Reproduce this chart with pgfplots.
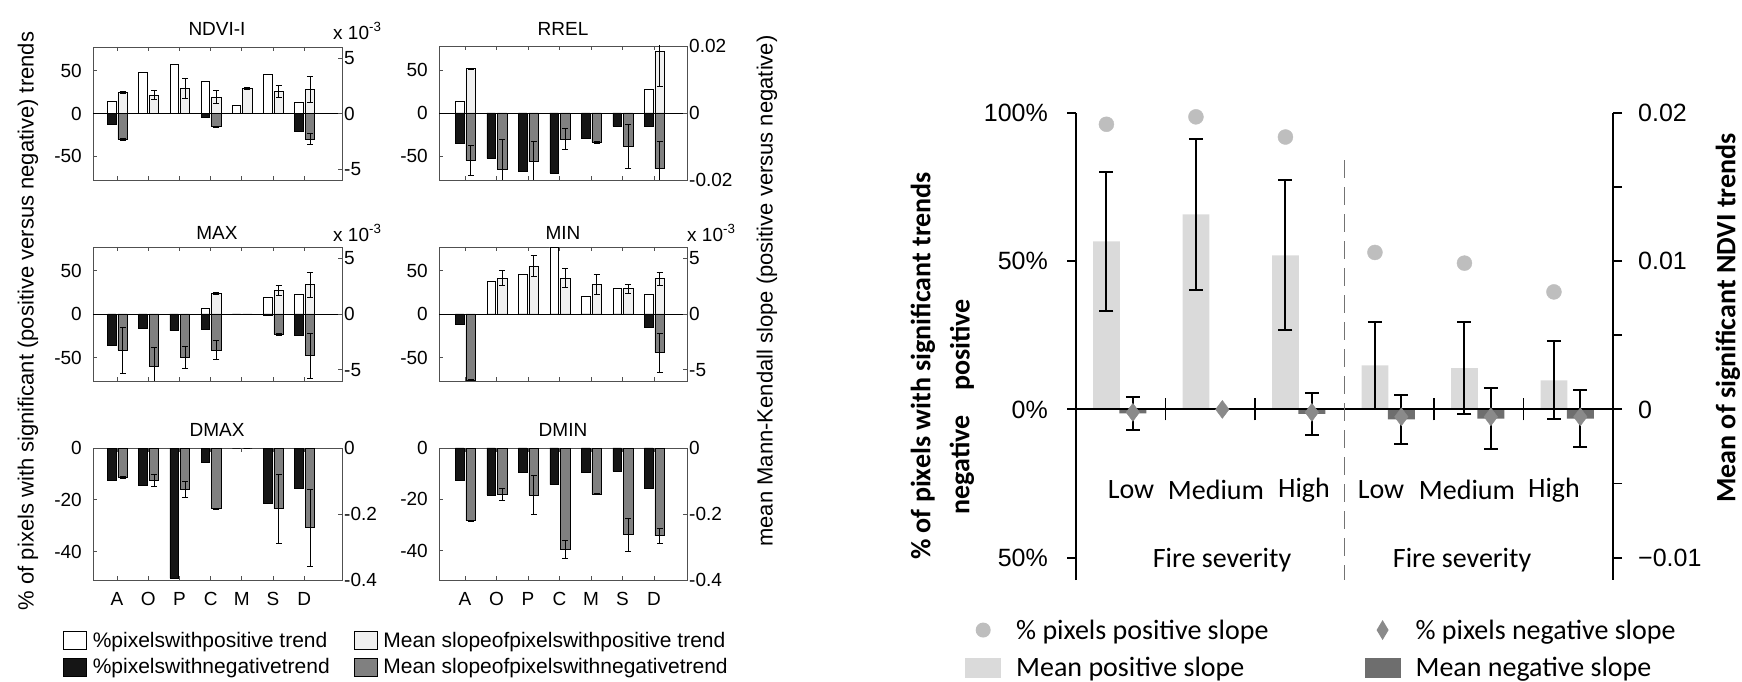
\documentclass[border=0pt]{standalone}
\usepackage{fontspec}
\setmainfont{Liberation Sans}
\newfontfamily\calib{Carlito}
\usepackage{pgfplots}
\usepackage{pgfplotstable}
\pgfplotsset{compat=1.18}

\definecolor{lgray}{HTML}{F0F0F0}
\definecolor{dgray}{HTML}{808080}
\definecolor{blk}{HTML}{151515}
\definecolor{pbar}{HTML}{DADADA}
\definecolor{nbar}{HTML}{6E6E6E}
\definecolor{dotc}{HTML}{BEBEBE}
\definecolor{diac}{HTML}{8A8A8A}
\definecolor{axc}{HTML}{505050}

% pp / pn: % pixels with positive / negative trend; sp, spe / sn, sne: mean slope and error
\pgfplotstableread{
x pp pn sp spe sn sne
1 14 -12.6 0.00190 0.00006 -0.00233 0.00010
2 48 0 0.00167 0.00038 0 0
3 58 0 0.00227 0.00090 0 0
4 37.8 -4 0.00148 0.00060 -0.00120 0.00006
5 10 0 0.00227 0.00006 0 0
6 45.7 0 0.00200 0.00053 0 0
7 13 -20.5 0.00218 0.00120 -0.00230 0.00050
}\ndvi
\pgfplotstableread{
x pp pn sp spe sn sne
1 13.6 -35.7 0.0132 0.0002 -0.0142 0.0045
2 0 -52.7 0 0 -0.0168 0.0090
3 0 -68 0 0 -0.0145 0.0060
4 0 -70 0 0 -0.0078 0.0031
5 0 -29 0 0 -0.0087 0.0003
6 0 -15.5 0 0 -0.0100 0.0065
7 28 -15.5 0.0183 0.0103 -0.0166 0.0081
}\rrel
\pgfplotstableread{
x pp pn sp spe sn sne
1 0 -35.9 0 0 -0.00322 0.00205
2 0 -16.8 0 0 -0.00467 0.00166
3 0 -19.1 0 0 -0.00386 0.00100
4 6.9 -17.2 0.00184 0.00006 -0.00322 0.00087
5 0 0 0 0 0 0
6 19.1 -1.9 0.00211 0.00042 -0.00181 0.00006
7 22.1 -24.8 0.00262 0.00114 -0.00373 0.00200
}\maxt
\pgfplotstableread{
x pp pn sp spe sn sne
1 0 -12.2 0 0 -0.00593 0.00006
2 37 0 0.00322 0.00065 0 0
3 45.4 0 0.00431 0.00095 0 0
4 77 0 0.00322 0.00083 0 0
5 20.2 0 0.00265 0.00087 0 0
6 29 0 0.00226 0.00040 0 0
7 22.1 -14.9 0.00316 0.00057 -0.00346 0.00173
}\mint
\pgfplotstableread{
x pn sn sne
1 -12.5 -0.089 0.002
2 -14.5 -0.098 0.019
3 -50.3 -0.125 0.024
4 -5.4 -0.184 0.002
5 0 0 0
6 -21.3 -0.184 0.104
7 -15.5 -0.241 0.117
}\dmax
\pgfplotstableread{
x pn sn sne
1 -12.6 -0.220 0.002
2 -18.3 -0.139 0.018
3 -9.5 -0.142 0.060
4 -14.3 -0.307 0.028
5 -9.5 -0.139 0.002
6 -9.1 -0.263 0.050
7 -15.6 -0.266 0.023
}\dmin
% right panel: Low, Medium, High, Low, Medium, High
\pgfplotstableread{
x xp xn pos neg sp spe sn sne
0 -0.16 0.135 96.1 -1.0 0.01132 0.00470 -0.00026 0.00112
1 0.84 1.135 98.6 0.0 0.01314 0.00506 0 0
2 1.84 2.135 91.8 -1.0 0.01038 0.00506 -0.00030 0.00140
3 2.84 3.135 52.9 -2.5 0.00296 0.00290 -0.00068 0.00168
4 3.84 4.135 49.3 -2.5 0.00278 0.00310 -0.00062 0.00206
5 4.84 5.135 39.6 -2.5 0.00196 0.00264 -0.00062 0.00194
}\rp

\pgfplotsset{
  sm/.style={scale only axis, anchor=south west, xtick={1,2,3,4,5,6,7},
    scaled y ticks=false, scaled x ticks=false,
    tick align=inside, major tick length=4bp,
    axis line style={axc, line width=0.8bp},
    tick style={axc, line width=0.8bp},
    tick label style={font=\fontsize{19bp}{22bp}\selectfont, inner sep=2bp}},
  colL/.style={width=249bp, xmin=0.23, xmax=8.21},
  colR/.style={width=248bp, xmin=0.175, xmax=8.05},
  smL/.style={sm, ytick pos=left, xticklabels={}, yticklabel style={xshift=-9bp}},
  smR/.style={sm, axis x line=none, axis y line*=right},
  pbar/.style={ybar, bar width=0.27, bar shift=-0.17, draw=black, line width=0.6bp},
  sbar/.style={ybar, bar width=0.30, bar shift=0.18, draw=black, line width=0.6bp, forget plot},
  seb/.style={draw=none, mark=none, forget plot,
     error bars/y dir=both, error bars/y explicit,
     error bars/error bar style={draw=black, solid, line width=0.6bp},
     error bars/error mark options={draw=black, solid, line width=0.6bp, mark size=3bp, rotate=90}},
  big/.style={scale only axis, anchor=south west, at={(1076bp,102bp)},
     width=537bp, height=467.3bp, xmin=-0.5, xmax=5.5,
     scaled y ticks=false, scaled x ticks=false,
     axis line style={black, line width=1.8bp, -},
     tick style={black, line width=1.8bp}},
  beb/.style={draw=none, mark=none, forget plot,
     error bars/y dir=both, error bars/y explicit,
     error bars/error bar style={draw=black, solid, line width=2bp},
     error bars/error mark options={draw=black, solid, line width=2bp, mark size=7bp, rotate=90}},
}

\begin{document}
\begin{tikzpicture}
\path[use as bounding box] (0bp,0bp) rectangle (1742bp,682bp);

% ---------------- NDVI-I
\begin{axis}[smL, colL, at={(93bp,502bp)}, height=133bp, ymin=-78, ymax=78,
  ytick={-50,0,50}, yticklabels={-50,0,50}]
\addplot[pbar, fill=white] table[x=x,y=pp]{\ndvi};
\addplot[pbar, fill=blk] table[x=x,y=pn]{\ndvi};
\draw[black, line width=0.8bp] (axis cs:0,0) -- (axis cs:9,0);
\end{axis}
\begin{axis}[smR, colL, at={(93bp,502bp)}, height=133bp, ymin=-0.006, ymax=0.006,
  ytick={-0.005,0,0.005}, yticklabels={-5,0,5}]
\addplot[sbar, fill=lgray] table[x=x,y=sp]{\ndvi};
\addplot[sbar, fill=dgray] table[x=x,y=sn]{\ndvi};
\addplot[seb] table[x expr=\thisrow{x}+0.18,y=sp,y error=spe]{\ndvi};
\addplot[seb] table[x expr=\thisrow{x}+0.18,y=sn,y error=sne]{\ndvi};
\end{axis}

% ---------------- RREL
\begin{axis}[smL, colR, at={(439bp,502bp)}, height=134bp, ymin=-78, ymax=78,
  ytick={-50,0,50}, yticklabels={-50,0,50}]
\addplot[pbar, fill=white] table[x=x,y=pp]{\rrel};
\addplot[pbar, fill=blk] table[x=x,y=pn]{\rrel};
\draw[black, line width=0.8bp] (axis cs:0,0) -- (axis cs:9,0);
\end{axis}
\begin{axis}[smR, colR, at={(439bp,502bp)}, height=134bp, ymin=-0.02, ymax=0.02,
  ytick={-0.02,0,0.02}, yticklabels={-0.02,0,0.02}]
\addplot[sbar, fill=lgray] table[x=x,y=sp]{\rrel};
\addplot[sbar, fill=dgray] table[x=x,y=sn]{\rrel};
\addplot[seb] table[x expr=\thisrow{x}+0.18,y=sp,y error=spe]{\rrel};
\addplot[seb] table[x expr=\thisrow{x}+0.18,y=sn,y error=sne]{\rrel};
\end{axis}

% ---------------- MAX
\begin{axis}[smL, colL, at={(93bp,301bp)}, height=134bp, ymin=-77, ymax=77,
  ytick={-50,0,50}, yticklabels={-50,0,50}]
\addplot[pbar, fill=white] table[x=x,y=pp]{\maxt};
\addplot[pbar, fill=blk] table[x=x,y=pn]{\maxt};
\draw[black, line width=0.8bp] (axis cs:0,0) -- (axis cs:9,0);
\end{axis}
\begin{axis}[smR, colL, at={(93bp,301bp)}, height=134bp, ymin=-0.006, ymax=0.006,
  ytick={-0.005,0,0.005}, yticklabels={-5,0,5}]
\addplot[sbar, fill=lgray] table[x=x,y=sp]{\maxt};
\addplot[sbar, fill=dgray] table[x=x,y=sn]{\maxt};
\addplot[seb] table[x expr=\thisrow{x}+0.18,y=sp,y error=spe]{\maxt};
\addplot[seb] table[x expr=\thisrow{x}+0.18,y=sn,y error=sne]{\maxt};
\end{axis}

% ---------------- MIN
\begin{axis}[smL, colR, at={(439bp,301bp)}, height=134bp, ymin=-77, ymax=77,
  ytick={-50,0,50}, yticklabels={-50,0,50}]
\addplot[pbar, fill=white] table[x=x,y=pp]{\mint};
\addplot[pbar, fill=blk] table[x=x,y=pn]{\mint};
\draw[black, line width=0.8bp] (axis cs:0,0) -- (axis cs:9,0);
\end{axis}
\begin{axis}[smR, colR, at={(439bp,301bp)}, height=134bp, ymin=-0.006, ymax=0.006,
  ytick={-0.005,0,0.005}, yticklabels={-5,0,5}]
\addplot[sbar, fill=lgray] table[x=x,y=sp]{\mint};
\addplot[sbar, fill=dgray] table[x=x,y=sn]{\mint};
\addplot[seb] table[x expr=\thisrow{x}+0.18,y=sp,y error=spe]{\mint};
\addplot[seb] table[x expr=\thisrow{x}+0.18,y=sn,y error=sne]{\mint};
\end{axis}

% ---------------- DMAX
\begin{axis}[smL, colL, at={(93bp,102bp)}, height=132bp, ymin=-51, ymax=0,
  ytick={-40,-20,0}, yticklabels={-40,-20,0},
  xticklabels={A,O,P,C,M,S,D}, xticklabel style={yshift=-10bp},
  legend columns=2, legend cell align=left,
  legend style={draw=none, fill=none, at={(axis description cs:-0.1325,-0.37)}, anchor=north west,
    font=\fontsize{21bp}{24bp}\selectfont, nodes={inner sep=0bp},
    /tikz/every odd column/.append style={column sep=6bp},
    /tikz/every even column/.append style={column sep=24bp},
    row sep=8bp}]
\addplot[pbar, fill=blk, forget plot] table[x=x,y=pn]{\dmax};
\addlegendimage{legend image code/.code={\draw[black, fill=white, line width=0.6bp] (0bp,-9bp) rectangle (23bp,9bp);}}
\addlegendentry{\%pixelswithpositive trend}
\addlegendimage{legend image code/.code={\draw[black, fill=lgray, line width=0.6bp] (0bp,-9bp) rectangle (23bp,9bp);}}
\addlegendentry{Mean slopeofpixelswithpositive trend}
\addlegendimage{legend image code/.code={\draw[black, fill=blk, line width=0.6bp] (0bp,-9bp) rectangle (23bp,9bp);}}
\addlegendentry{\%pixelswithnegativetrend}
\addlegendimage{legend image code/.code={\draw[black, fill=dgray, line width=0.6bp] (0bp,-9bp) rectangle (23bp,9bp);}}
\addlegendentry{Mean slopeofpixelswithnegativetrend}
\end{axis}
\begin{axis}[smR, colL, at={(93bp,102bp)}, height=132bp, ymin=-0.4, ymax=0,
  ytick={-0.4,-0.2,0}, yticklabels={-0.4,-0.2,0}]
\addplot[sbar, fill=dgray] table[x=x,y=sn]{\dmax};
\addplot[seb] table[x expr=\thisrow{x}+0.18,y=sn,y error=sne]{\dmax};
\end{axis}

% ---------------- DMIN
\begin{axis}[smL, colR, at={(439bp,102bp)}, height=132bp, ymin=-51.5, ymax=0,
  ytick={-40,-20,0}, yticklabels={-40,-20,0},
  xticklabels={A,O,P,C,M,S,D}, xticklabel style={yshift=-10bp}]
\addplot[pbar, fill=blk] table[x=x,y=pn]{\dmin};
\end{axis}
\begin{axis}[smR, colR, at={(439bp,102bp)}, height=132bp, ymin=-0.4, ymax=0,
  ytick={-0.4,-0.2,0}, yticklabels={-0.4,-0.2,0}]
\addplot[sbar, fill=dgray] table[x=x,y=sn]{\dmin};
\addplot[seb] table[x expr=\thisrow{x}+0.18,y=sn,y error=sne]{\dmin};
\end{axis}

% left panel texts
\begin{scope}[every node/.style={font=\fontsize{19bp}{22bp}\selectfont}]
\node at (217bp,653bp) {NDVI-I};
\node at (563bp,653bp) {RREL};
\node at (217bp,449bp) {MAX};
\node at (563bp,449bp) {MIN};
\node at (217bp,252bp) {DMAX};
\node at (563bp,252bp) {DMIN};
\node[anchor=west, inner sep=0bp] at (333bp,651bp) {x 10\textsuperscript{-3}};
\node[anchor=west, inner sep=0bp] at (333bp,449bp) {x 10\textsuperscript{-3}};
\node[anchor=west, inner sep=0bp] at (687bp,449bp) {x 10\textsuperscript{-3}};
\end{scope}
\node[rotate=90, font=\fontsize{22bp}{26bp}\selectfont] at (28bp,361bp) {\% of pixels with significant (positive versus negative) trends};
\node[rotate=90, font=\fontsize{22bp}{26bp}\selectfont] at (767bp,391bp) {mean Mann-Kendall slope (positive versus negative)};

% ---------------- right panel: bars on slope axis
\begin{axis}[big, ymin=-0.0115, ymax=0.02, axis x line=none, axis y line*=right,
  ytick={-0.01,-0.005,0,0.005,0.01,0.015,0.02},
  yticklabels={−0.01,,0,,0.01,,0.02},
  tick align=outside, major tick length=9bp,
  yticklabel style={font=\fontsize{25bp}{30bp}\selectfont, inner sep=0bp, xshift=16bp}]
\addplot[ybar, bar width=0.30, bar shift=-0.16, fill=pbar, draw=none, forget plot] table[x=x,y=sp]{\rp};
\addplot[ybar, bar width=0.30, bar shift=0.135, fill=nbar, draw=none, forget plot] table[x=x,y=sn]{\rp};
\addplot[beb] table[x=xp,y=sp,y error=spe]{\rp};
\addplot[beb] table[x=xn,y=sn,y error=sne]{\rp};
\end{axis}
% zero line
\begin{axis}[big, ymin=-57.5, ymax=100, axis y line=none, axis x line*=middle,
  xtick={0.5,1.5,3.5,4.5}, xticklabels={}, tick align=center, major tick length=22bp]
\addplot[draw=none, forget plot] coordinates {(0,0)};
\draw[dashed, dash pattern=on 18bp off 9bp, color=black!55, line width=1.8bp] (axis cs:2.5,84) -- (axis cs:2.5,-57.5);
\end{axis}
% percent axis
\begin{axis}[big, ymin=-57.5, ymax=100, axis x line=none, axis y line*=left, clip=false,
  ytick={-50,0,50,100}, yticklabels={50\%,0\%,50\%,100\%},
  tick align=outside, major tick length=9bp,
  yticklabel style={font=\fontsize{25bp}{30bp}\selectfont, inner sep=0bp, xshift=-19bp},
  legend columns=2, legend cell align=left,
  legend style={draw=none, fill=none, at={(axis description cs:-0.2123,-0.08)}, anchor=north west,
    font=\calib\fontsize{28bp}{32bp}\selectfont, nodes={inner sep=0bp},
    /tikz/every odd column/.append style={column sep=15bp},
    /tikz/every even column/.append style={column sep=96bp},
    row sep=17bp}]
\addplot[only marks, mark=*, mark size=7.5bp, color=dotc, forget plot] table[x=xp,y=pos]{\rp};
\addplot[only marks, mark=diamond*, mark size=9bp, color=diac, forget plot] table[x=xn,y=neg]{\rp};
\addlegendimage{legend image code/.code={\path[draw=none, fill=none] (0bp,-10bp) rectangle (36bp,10bp); \fill[dotc, draw=none] (18bp,0bp) circle (7.5bp);}}
\addlegendentry{\% pixels positive slope}
\addlegendimage{legend image code/.code={\path[draw=none, fill=none] (0bp,-10bp) rectangle (36bp,10bp); \fill[diac, draw=none] (18bp,-10bp) -- (24bp,0bp) -- (18bp,10bp) -- (12bp,0bp) -- cycle;}}
\addlegendentry{\% pixels negative slope}
\addlegendimage{legend image code/.code={\fill[pbar, draw=none] (0bp,-10bp) rectangle (36bp,10bp);}}
\addlegendentry{Mean positive slope}
\addlegendimage{legend image code/.code={\fill[nbar, draw=none] (0bp,-10bp) rectangle (36bp,10bp);}}
\addlegendentry{Mean negative slope}
\end{axis}

% right panel texts
\begin{scope}[every node/.style={font=\calib\bfseries\fontsize{28bp}{32bp}\selectfont, rotate=90}]
\node at (923bp,316bp) {\% of pixels with significant trends};
\node at (962bp,337bp) {positive};
\node at (962bp,217bp) {negative};
\node at (1728bp,364bp) {Mean of significant NDVI trends};
\end{scope}
\begin{scope}[every node/.style={font=\calib\fontsize{28bp}{32bp}\selectfont}]
\node at (1131bp,192bp) {Low};
\node at (1216bp,192bp) {Medium};
\node at (1304bp,192bp) {High};
\node at (1381bp,192bp) {Low};
\node at (1467bp,192bp) {Medium};
\node at (1554bp,192bp) {High};
\node at (1222bp,122bp) {Fire severity};
\node at (1462bp,122bp) {Fire severity};
\end{scope}
\end{tikzpicture}
\end{document}
